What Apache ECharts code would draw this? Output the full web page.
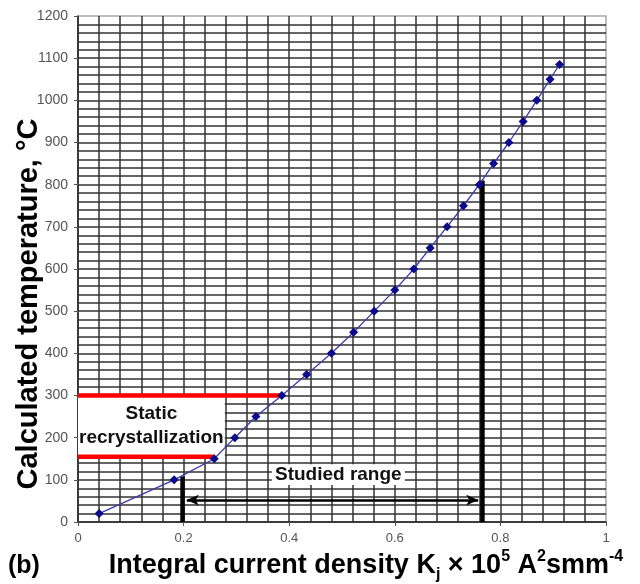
<!DOCTYPE html>
<html><head><meta charset="utf-8">
<script src="https://cdn.jsdelivr.net/npm/echarts@6/dist/echarts.min.js"></script>
<style>html,body{margin:0;padding:0;background:#fff}#c{width:640px;height:584px}</style>
</head><body><div id="c"></div>
<script>
// ---- data ----
const kj = [0.040,0.182,0.258,0.297,0.337,0.386,0.433,0.480,0.522,0.561,0.600,0.636,0.667,0.699,0.730,0.760,0.787,0.816,0.843,0.869,0.894,0.912];
const temp = [20,100,150,200,250,300,350,400,450,500,550,600,650,700,750,800,850,900,950,1000,1050,1085];
const recrystLevels = [155, 300];        // red lines (°C)
const recrystEnds = [0.258, 0.386];      // where red lines meet curve
const studiedRange = [0.198, 0.766];     // vertical bars (Kj)
const studiedTops = [108, 810];          // bar heights (°C)
const arrowLevel = 52;
const arrowEnds = [0.206, 0.758];
const staticBox = [[0, 155], [0.278, 300]];
const studiedBox = [[0.367, 88], [0.619, 137]];
const xTicks = [0, 0.2, 0.4, 0.6, 0.8, 1];
const yTicks = [0,100,200,300,400,500,600,700,800,900,1000,1100,1200];

const FONT = '"Liberation Sans", Arial, sans-serif';
const chart = echarts.init(document.getElementById('c'));
const gridLine = {color: '#333', width: 1.5};

const series = [
  {
    type: 'line', data: [], z: 1, silent: true,
    markArea: {
      silent: true,
      itemStyle: {color: '#ffffff', opacity: 1},
      label: {show: true, position: 'inside', color: '#111', fontFamily: FONT, fontWeight: 'bold', fontSize: 19, lineHeight: 24},
      data: [
        [{coord: staticBox[0], name: 'Static\nrecrystallization'}, {coord: staticBox[1]}],
        [{coord: studiedBox[0], name: 'Studied range'}, {coord: studiedBox[1]}]
      ]
    },
    markLine: {
      silent: true,
      symbol: ['arrow', 'arrow'], symbolSize: [8, 12],
      lineStyle: {color: '#000', width: 2.5, type: 'solid'},
      label: {show: false},
      data: [[{coord: [arrowEnds[0], arrowLevel]}, {coord: [arrowEnds[1], arrowLevel]}]]
    }
  }
];
recrystLevels.forEach((lv, i) => {
  series.push({type: 'line', z: 3, symbol: 'none', silent: true,
    lineStyle: {color: '#ff0000', width: 4.5},
    data: [[0, lv], [recrystEnds[i], lv]]});
});
studiedRange.forEach((x, i) => {
  series.push({type: 'line', z: 3, symbol: 'none', silent: true,
    lineStyle: {color: '#000', width: 4.5},
    data: [[x, 0], [x, studiedTops[i]]]});
});
series.push({
  type: 'line', z: 5, symbol: 'diamond', symbolSize: 9,
  itemStyle: {color: '#0a0a8a'},
  lineStyle: {color: '#3b3ba8', width: 1.3},
  data: kj.map((x, i) => [x, temp[i]])
});

chart.setOption({
  animation: false,
  grid: {left: 78, right: 34, top: 16, bottom: 62, show: true, borderColor: '#a8a8a8', borderWidth: 1.5},
  xAxis: {
    type: 'value', min: xTicks[0], max: xTicks[xTicks.length-1], interval: 0.2,
    axisLine: {show: true, lineStyle: {color: '#333', width: 1.5}},
    axisTick: {show: true, length: 4, lineStyle: {color: '#555'}},
    axisLabel: {color: '#555', fontSize: 13, fontFamily: FONT, margin: 10,
      formatter: v => String(Math.round(v * 10) / 10)},
    splitLine: {show: true, showMaxLine: false, lineStyle: gridLine},
    minorTick: {show: false, splitNumber: 5},
    minorSplitLine: {show: true, lineStyle: gridLine}
  },
  yAxis: {
    type: 'value', min: yTicks[0], max: yTicks[yTicks.length-1], interval: 100,
    axisLine: {show: true, lineStyle: {color: '#333', width: 1.5}},
    axisTick: {show: true, length: 4, lineStyle: {color: '#555'}},
    axisLabel: {color: '#555', fontSize: 14, fontFamily: FONT, margin: 10,
      formatter: v => String(Math.round(v))},
    splitLine: {show: true, showMaxLine: false, lineStyle: gridLine},
    minorTick: {show: false, splitNumber: 5},
    minorSplitLine: {show: true, lineStyle: gridLine}
  },
  graphic: [
    {type: 'text', x: 29, y: 304, rotation: Math.PI/2, z: 10,
      style: {text: 'Calculated temperature, °C', font: 'bold 29px ' + FONT, fill: '#000', align: 'center', verticalAlign: 'middle'}},
    {type: 'text', x: 8, y: 566, z: 10,
      style: {text: '(b)', font: 'bold 25px ' + FONT, fill: '#000', align: 'left', verticalAlign: 'middle'}},
    {type: 'text', x: 366, y: 566, z: 10,
      style: {
        text: '{n|Integral current density K}{sub|j}{n| × 10}{sup|5}{n| A}{sup|2}{n|smm}{sup|-4}',
        align: 'center', verticalAlign: 'middle',
        rich: {
          n: {font: 'bold 27px ' + FONT, fill: '#000', lineHeight: 34, verticalAlign: 'middle'},
          sub: {font: 'bold 16px ' + FONT, fill: '#000', lineHeight: 15, verticalAlign: 'bottom'},
          sup: {font: 'bold 16px ' + FONT, fill: '#000', lineHeight: 17, verticalAlign: 'top'}
        }
      }}
  ],
  series: series
});
</script></body></html>
